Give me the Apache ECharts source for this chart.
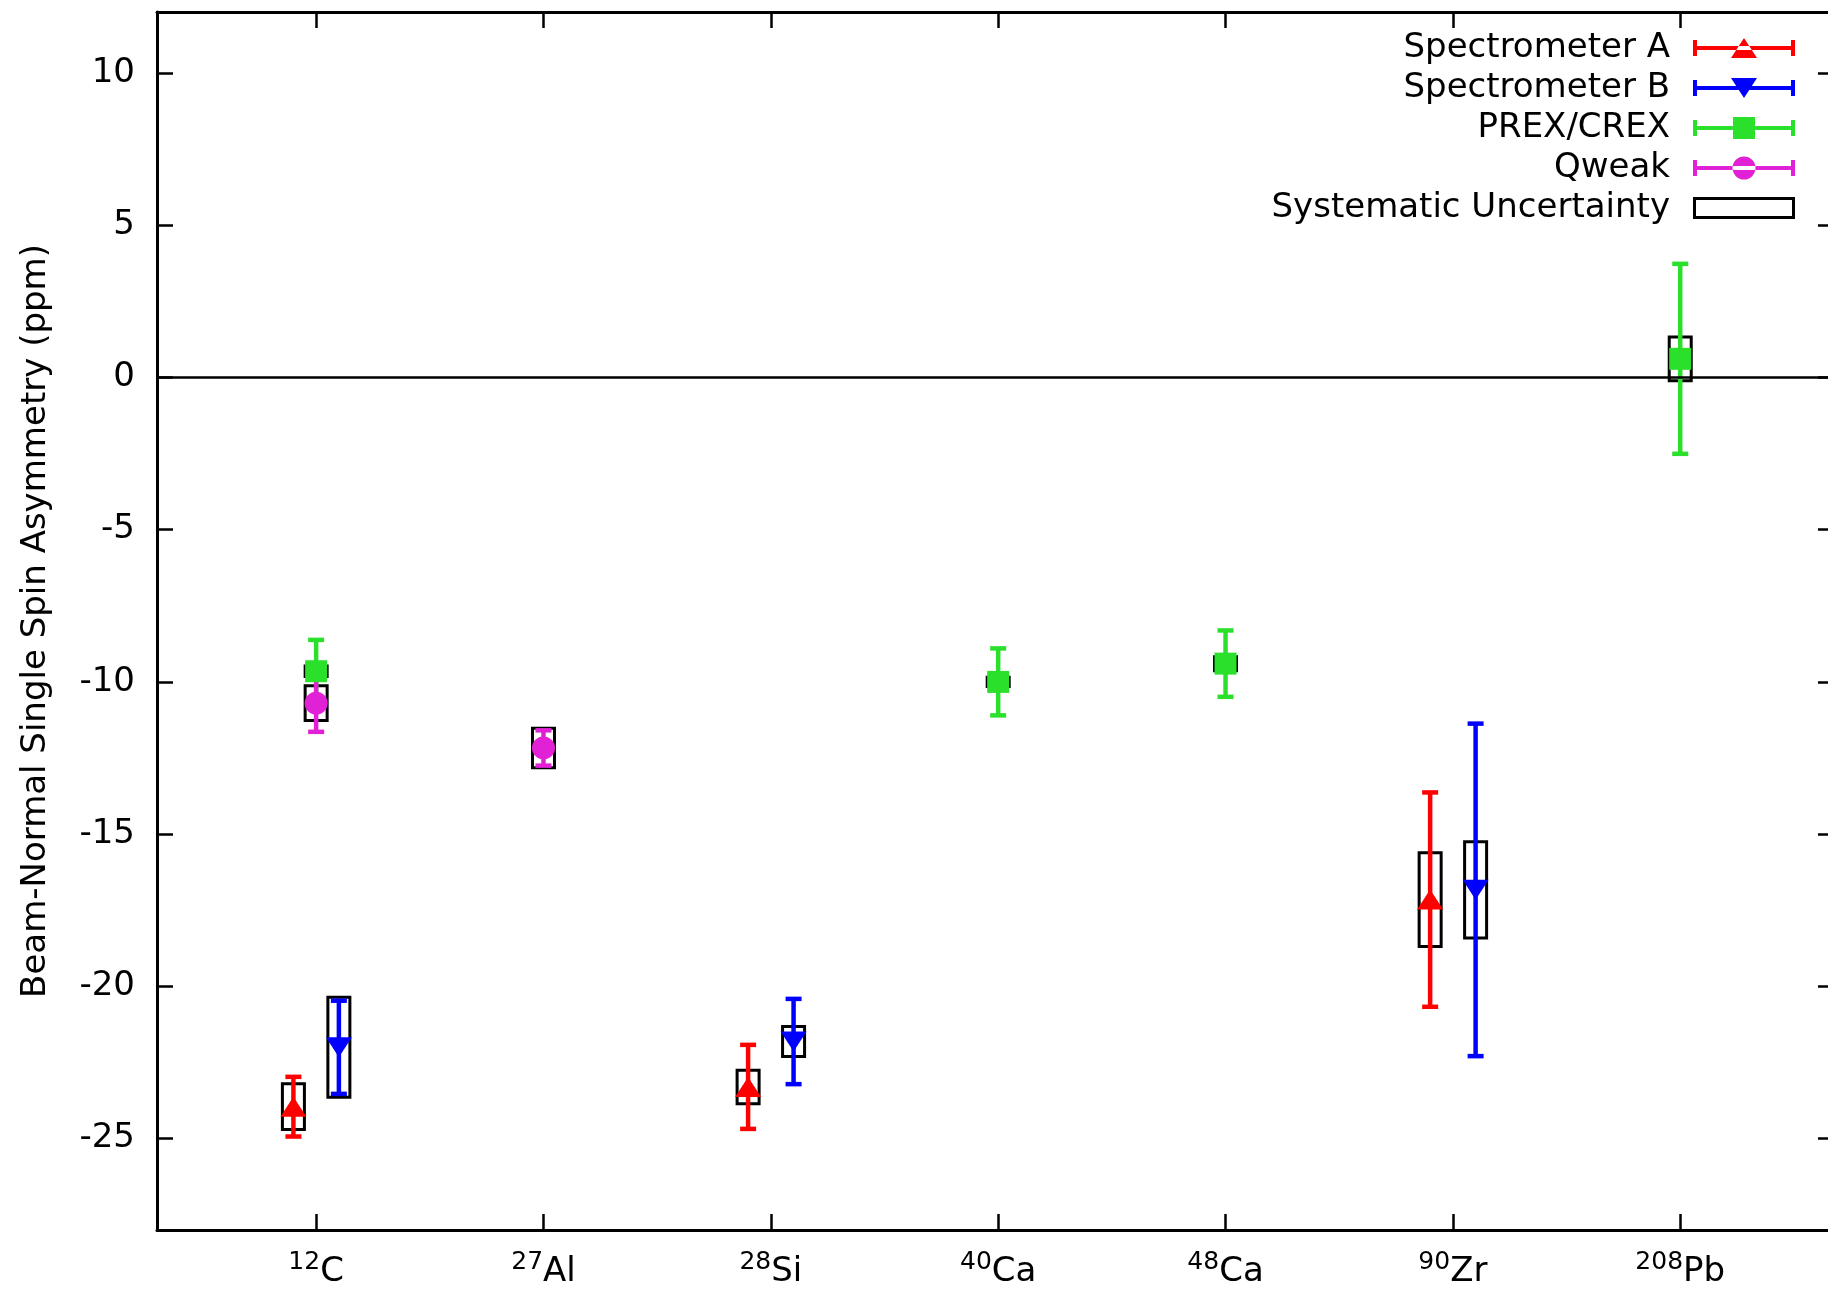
<!DOCTYPE html>
<html>
<head>
<meta charset="utf-8">
<script src="https://cdn.jsdelivr.net/npm/echarts@6/dist/echarts.min.js"></script>
<style>
html, body { margin: 0; padding: 0; background: #fff; }
#main { width: 1828px; height: 1290px; }
</style>
</head>
<body>
<div id="main"></div>
<script>
// targets along the x axis
var massNumbers = ['12', '27', '28', '40', '48', '90', '208']
var elements = ['C', 'Al', 'Si', 'Ca', 'Ca', 'Zr', 'Pb']
var yTicks = [-25, -20, -15, -10, -5, 0, 5, 10]

// target index, asymmetry (ppm), statistical error, systematic error
var specA_target = [0, 2, 5]
var specA_value = [-23.95, -23.3, -17.15]
var specA_stat = [0.98, 1.38, 3.52]
var specA_sys = [0.75, 0.55, 1.54]

var specB_target = [0, 2, 5]
var specB_value = [-22.0, -21.81, -16.83]
var specB_stat = [1.53, 1.4, 5.46]
var specB_sys = [1.64, 0.49, 1.58]

var prex_target = [0, 3, 4, 6]
var prex_value = [-9.65, -10.0, -9.4, 0.61]
var prex_stat = [1.03, 1.1, 1.09, 3.12]
var prex_sys = [0.17, 0.15, 0.23, 0.72]

var qweak_target = [0, 1]
var qweak_value = [-10.7, -12.17]
var qweak_stat = [0.94, 0.58]
var qweak_sys = [0.57, 0.65]

var FONT = 'DejaVu Sans'
var xTickPos = massNumbers.map(function (m, i) { return i + 1 })

function points(target, value, err, shift) {
    return target.map(function (t, i) {
        return [t + 1 + shift, value[i], err[i]]
    })
}

function errBar(params, api) {
    var x = api.value(0), y = api.value(1), e = api.value(2)
    var hi = api.coord([x, y + e])
    var lo = api.coord([x, y - e])
    var cap = 8
    var style = { stroke: api.visual('color'), lineWidth: 4.5 }
    return {
        type: 'group',
        children: [
            { type: 'line', shape: { x1: hi[0], y1: hi[1], x2: lo[0], y2: lo[1] }, style: style },
            { type: 'line', shape: { x1: hi[0] - cap, y1: hi[1], x2: hi[0] + cap, y2: hi[1] }, style: style },
            { type: 'line', shape: { x1: lo[0] - cap, y1: lo[1], x2: lo[0] + cap, y2: lo[1] }, style: style }
        ]
    }
}

function sysBox(params, api) {
    var x = api.value(0), y = api.value(1), s = api.value(2)
    var hi = api.coord([x, y + s])
    var lo = api.coord([x, y - s])
    var w = 22
    return {
        type: 'rect',
        shape: { x: hi[0] - w / 2, y: hi[1], width: w, height: lo[1] - hi[1] },
        style: { fill: 'none', stroke: '#000', lineWidth: 3 }
    }
}

var aErr = points(specA_target, specA_value, specA_stat, -0.1)
var bErr = points(specB_target, specB_value, specB_stat, 0.1)
var pErr = points(prex_target, prex_value, prex_stat, 0)
var qErr = points(qweak_target, qweak_value, qweak_stat, 0)
var boxes = [].concat(
    points(specA_target, specA_value, specA_sys, -0.1),
    points(specB_target, specB_value, specB_sys, 0.1),
    points(prex_target, prex_value, prex_sys, 0),
    points(qweak_target, qweak_value, qweak_sys, 0)
)

var RED = '#ff0000', BLUE = '#0000ff', GREEN = '#2ae02a', MAGENTA = '#e021d6'

var capPath = 'M0,9H102V13H0Z M0,3H4V19H0Z M98,3H102V19H98Z '
var icons = {
    a: 'path://' + capPath + 'M38,21L64,21L51,1Z',
    b: 'path://' + capPath + 'M38,1L64,1L51,21Z',
    p: 'path://' + capPath + 'M40,0H62V22H40Z',
    q: 'path://' + capPath + 'M39.5,11A11.5,11.5 0 1 0 62.5,11A11.5,11.5 0 1 0 39.5,11Z',
    s: 'path://M0,0H102V22H0Z M3,3V19H99V3Z'
}

var myChart = echarts.init(document.getElementById('main'))

var tickStyle = { inside: true, length: 16, lineStyle: { color: '#000', width: 2.5 } }
var lineStyle = { show: true, onZero: false, lineStyle: { color: '#000', width: 3 } }

myChart.setOption({
    backgroundColor: '#fff',
    animation: false,
    grid: { left: 157, top: 12, width: 1671, height: 1218 },
    legend: {
        orient: 'vertical',
        align: 'right',
        right: 33,
        top: 31,
        padding: 0,
        itemWidth: 102,
        itemHeight: 24,
        itemGap: 6,
        textStyle: { fontFamily: FONT, fontSize: 34, color: '#000', lineHeight: 24, padding: [0, 18, 0, 0] },
        data: [
            { name: 'Spectrometer A', icon: icons.a },
            { name: 'Spectrometer B', icon: icons.b },
            { name: 'PREX/CREX', icon: icons.p },
            { name: 'Qweak', icon: icons.q },
            { name: 'Systematic Uncertainty', icon: icons.s }
        ]
    },
    xAxis: [{
        type: 'value',
        position: 'bottom',
        min: 0.3,
        max: 7.65,
        axisLine: lineStyle,
        axisTick: Object.assign({ customValues: xTickPos }, tickStyle),
        splitLine: { show: false },
        axisLabel: {
            customValues: xTickPos,
            margin: 20,
            formatter: function (v) {
                var i = Math.round(v) - 1
                return '{sup|' + massNumbers[i] + '}{el|' + elements[i] + '}'
            },
            rich: {
                sup: { fontFamily: FONT, fontSize: 25, color: '#000', lineHeight: 24, verticalAlign: 'top' },
                el: { fontFamily: FONT, fontSize: 34, color: '#000', lineHeight: 44 }
            }
        }
    }, {
        type: 'value',
        position: 'top',
        min: 0.3,
        max: 7.65,
        axisLine: lineStyle,
        axisTick: Object.assign({ customValues: xTickPos }, tickStyle),
        splitLine: { show: false },
        axisLabel: { show: false }
    }],
    yAxis: [{
        type: 'value',
        position: 'left',
        min: -28,
        max: 12,
        name: 'Beam-Normal Single Spin Asymmetry (ppm)',
        nameLocation: 'middle',
        nameGap: 104,
        nameTextStyle: { fontFamily: FONT, fontSize: 34, color: '#000' },
        axisLine: lineStyle,
        axisTick: Object.assign({ customValues: yTicks }, tickStyle),
        splitLine: { show: false },
        axisLabel: { customValues: yTicks, margin: 22, fontFamily: FONT, fontSize: 34, color: '#000' }
    }, {
        type: 'value',
        position: 'right',
        min: -28,
        max: 12,
        axisLine: { show: false },
        axisTick: { customValues: yTicks, inside: true, length: 10, lineStyle: { color: '#000', width: 2.5 } },
        splitLine: { show: false },
        axisLabel: { show: false }
    }],
    series: [{
        name: 'Systematic Uncertainty',
        type: 'custom',
        renderItem: sysBox,
        itemStyle: { color: '#000' },
        encode: { x: 0, y: 1 },
        data: boxes,
        markLine: {
            silent: true,
            symbol: 'none',
            label: { show: false },
            lineStyle: { color: '#000', width: 2.5, type: 'solid' },
            data: [{ yAxis: 0 }]
        }
    }, {
        name: 'errA', type: 'custom', renderItem: errBar, itemStyle: { color: RED },
        encode: { x: 0, y: 1 }, data: aErr
    }, {
        name: 'Spectrometer A', type: 'scatter', symbol: 'triangle', symbolSize: [26, 20],
        itemStyle: { color: RED, opacity: 1 }, data: aErr
    }, {
        name: 'errB', type: 'custom', renderItem: errBar, itemStyle: { color: BLUE },
        encode: { x: 0, y: 1 }, data: bErr
    }, {
        name: 'Spectrometer B', type: 'scatter', symbol: 'path://M0,0L2,0L1,2Z', symbolSize: [26, 20],
        itemStyle: { color: BLUE, opacity: 1 }, data: bErr
    }, {
        name: 'errP', type: 'custom', renderItem: errBar, itemStyle: { color: GREEN },
        encode: { x: 0, y: 1 }, data: pErr
    }, {
        name: 'PREX/CREX', type: 'scatter', symbol: 'rect', symbolSize: 22,
        itemStyle: { color: GREEN, opacity: 1 }, data: pErr
    }, {
        name: 'errQ', type: 'custom', renderItem: errBar, itemStyle: { color: MAGENTA },
        encode: { x: 0, y: 1 }, data: qErr
    }, {
        name: 'Qweak', type: 'scatter', symbol: 'circle', symbolSize: 23,
        itemStyle: { color: MAGENTA, opacity: 1 }, data: qErr
    }]
})
</script>
</body>
</html>
